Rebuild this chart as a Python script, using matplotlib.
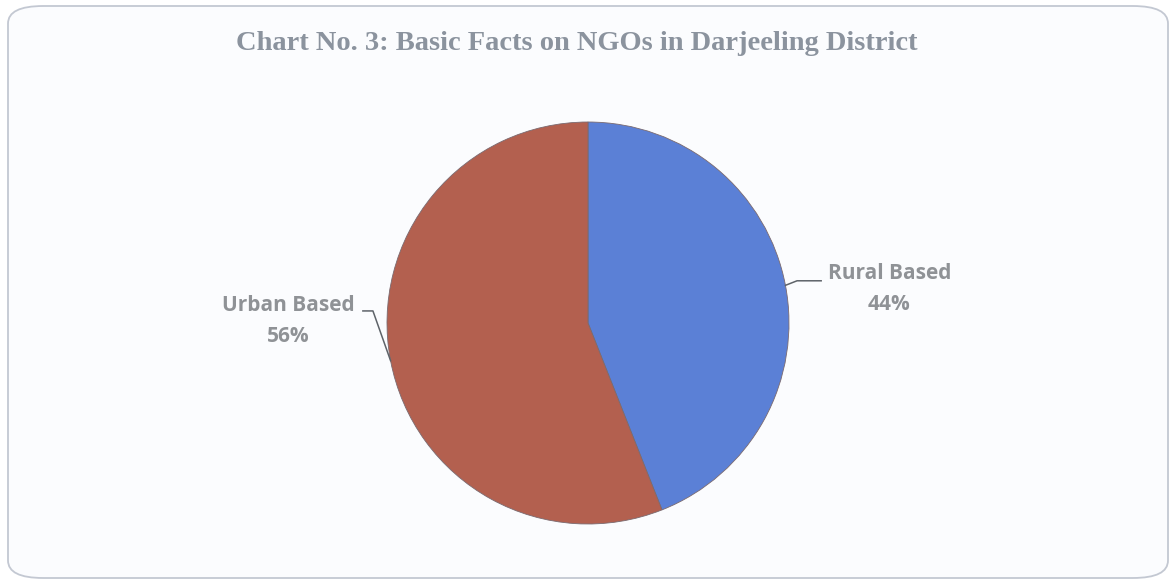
import matplotlib.pyplot as plt
import numpy as np
from matplotlib.patches import FancyBboxPatch

labels = ['Rural Based', 'Urban Based']
shares = [44, 56]
colors = ['#5b80d6', '#b3604f']
title = 'Chart No. 3: Basic Facts on NGOs in Darjeeling District'

W, H = 1176, 584
fig = plt.figure(figsize=(W / 100, H / 100), dpi=100)
fig.patch.set_facecolor('white')

# rounded frame around the chart
frame = FancyBboxPatch((8 / W, 6 / H), 1160 / W, 572 / H,
                       boxstyle='round,pad=0,rounding_size=0.03',
                       transform=fig.transFigure, facecolor='#fbfcfe',
                       edgecolor='#c3c8d2', linewidth=1.3, zorder=-5)
fig.patches.append(frame)

fig.text(577 / W, 1 - 44 / H, title, ha='center', va='center',
         fontsize=20.5, fontweight='bold', color='#8b939e',
         family='Liberation Serif')

cx, cy, r = 588, 323, 201
ax = fig.add_axes([(cx - r) / W, (H - cy - r) / H, 2 * r / W, 2 * r / H])
ax.set_zorder(2)
wedges, _ = ax.pie(shares, colors=colors, startangle=90, counterclock=False,
                   radius=1, wedgeprops=dict(linewidth=0.6, edgecolor='#7a6a70'))
ax.set_xlim(-1, 1)
ax.set_ylim(-1, 1)
ax.set_aspect('equal')
ax.axis('off')

# label positions relative to the pie (data units)
label_pos = [(1.50, 0.17), (-1.49, 0.01)]
elbow = [(1.04, 0.21), (-1.07, 0.06)]
tail = [(1.16, 0.21), (-1.12, 0.06)]
for w, lab, s, (tx, ty), (ex, ey), (hx, hy) in zip(
        wedges, labels, shares, label_pos, elbow, tail):
    ang = np.deg2rad((w.theta1 + w.theta2) / 2)
    x0, y0 = np.cos(ang), np.sin(ang)
    ax.plot([x0, ex, hx], [y0, ey, hy], color='#5e6369', lw=1.1,
            clip_on=False)
    ax.text(tx, ty, f'{lab}\n{s}%', ha='center', va='center',
            fontsize=15, fontweight='bold', color='#8f9296',
            family='Open Sans', linespacing=1.65, clip_on=False)

fig.savefig('out.png', dpi=100)
